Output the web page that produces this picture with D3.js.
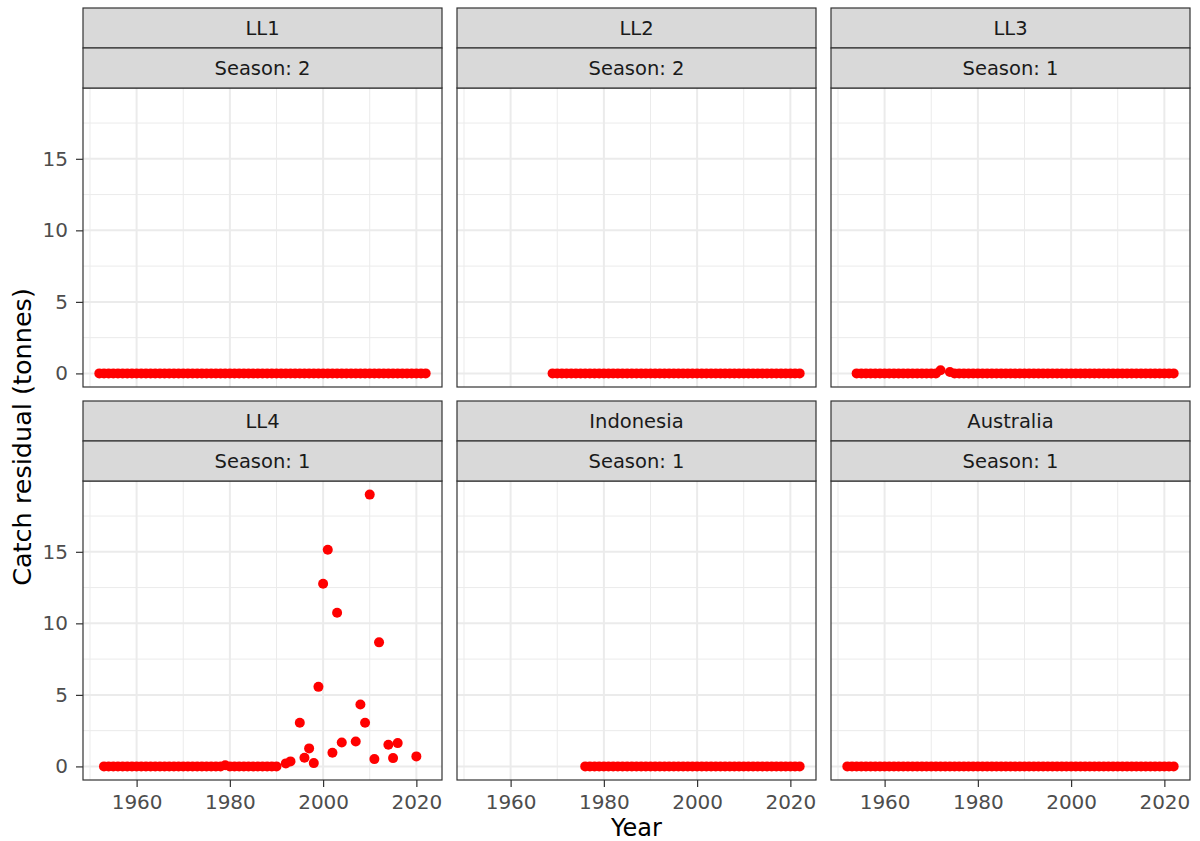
<!DOCTYPE html>
<html>
<head>
<meta charset="utf-8">
<script src="https://cdn.jsdelivr.net/npm/d3@7"></script>
<style>
  html, body { margin: 0; padding: 0; background: #fff; }
  svg { display: block; font-family: "DejaVu Sans", sans-serif; }
</style>
</head>
<body>
<svg id="chart" width="1200" height="841"></svg>
<script>
// ---------- data ----------
const panelNames = ["LL1", "LL2", "LL3", "LL4", "Indonesia", "Australia"];
const seasonLabels = ["Season: 2", "Season: 2", "Season: 1", "Season: 1", "Season: 1", "Season: 1"];

const yearsLL1 = [1952,1953,1954,1955,1956,1957,1958,1959,1960,1961,1962,1963,1964,1965,1966,1967,1968,1969,1970,1971,1972,1973,1974,1975,1976,1977,1978,1979,1980,1981,1982,1983,1984,1985,1986,1987,1988,1989,1990,1991,1992,1993,1994,1995,1996,1997,1998,1999,2000,2001,2002,2003,2004,2005,2006,2007,2008,2009,2010,2011,2012,2013,2014,2015,2016,2017,2018,2019,2020,2021,2022];
const valuesLL1 = [0,0,0,0,0,0,0,0,0,0,0,0,0,0,0,0,0,0,0,0,0,0,0,0,0,0,0,0,0,0,0,0,0,0,0,0,0,0,0,0,0,0,0,0,0,0,0,0,0,0,0,0,0,0,0,0,0,0,0,0,0,0,0,0,0,0,0,0,0,0,0];

const yearsLL2 = [1969,1970,1971,1972,1973,1974,1975,1976,1977,1978,1979,1980,1981,1982,1983,1984,1985,1986,1987,1988,1989,1990,1991,1992,1993,1994,1995,1996,1997,1998,1999,2000,2001,2002,2003,2004,2005,2006,2007,2008,2009,2010,2011,2012,2013,2014,2015,2016,2017,2018,2019,2020,2021,2022];
const valuesLL2 = [0,0,0,0,0,0,0,0,0,0,0,0,0,0,0,0,0,0,0,0,0,0,0,0,0,0,0,0,0,0,0,0,0,0,0,0,0,0,0,0,0,0,0,0,0,0,0,0,0,0,0,0,0,0];

const yearsLL3 = [1954,1955,1956,1957,1958,1959,1960,1961,1962,1963,1964,1965,1966,1967,1968,1969,1970,1971,1972,1974,1975,1976,1977,1978,1979,1980,1981,1982,1983,1984,1985,1986,1987,1988,1989,1990,1991,1992,1993,1994,1995,1996,1997,1998,1999,2000,2001,2002,2003,2004,2005,2006,2007,2008,2009,2010,2011,2012,2013,2014,2015,2016,2017,2018,2019,2020,2021,2022];
const valuesLL3 = [0,0,0,0,0,0,0,0,0,0,0,0,0,0,0,0,0,0,0.22,0.1,0,0,0,0,0,0,0,0,0,0,0,0,0,0,0,0,0,0,0,0,0,0,0,0,0,0,0,0,0,0,0,0,0,0,0,0,0,0,0,0,0,0,0,0,0,0,0,0];

const yearsLL4 = [1953,1954,1955,1956,1957,1958,1959,1960,1961,1962,1963,1964,1965,1966,1967,1968,1969,1970,1971,1972,1973,1974,1975,1976,1977,1978,1979,1980,1981,1982,1983,1984,1985,1986,1987,1988,1989,1990,1992,1993,1995,1996,1997,1998,1999,2000,2001,2002,2003,2004,2007,2008,2009,2010,2011,2012,2014,2015,2016,2020];
const valuesLL4 = [0,0,0,0,0,0,0,0,0,0,0,0,0,0,0,0,0,0,0,0,0,0,0,0,0,0,0.08,0,0,0,0,0,0,0,0,0,0,0,0.21,0.35,3.05,0.6,1.26,0.23,5.56,12.77,15.14,0.95,10.74,1.67,1.74,4.33,3.05,19.0,0.51,8.67,1.51,0.58,1.63,0.7];

const yearsIndonesia = [1976,1977,1978,1979,1980,1981,1982,1983,1984,1985,1986,1987,1988,1989,1990,1991,1992,1993,1994,1995,1996,1997,1998,1999,2000,2001,2002,2003,2004,2005,2006,2007,2008,2009,2010,2011,2012,2013,2014,2015,2016,2017,2018,2019,2020,2021,2022];
const valuesIndonesia = [0,0,0,0,0,0,0,0,0,0,0,0,0,0,0,0,0,0,0,0,0,0,0,0,0,0,0,0,0,0,0,0,0,0,0,0,0,0,0,0,0,0,0,0,0,0,0];

const yearsAustralia = [1952,1953,1954,1955,1956,1957,1958,1959,1960,1961,1962,1963,1964,1965,1966,1967,1968,1969,1970,1971,1972,1973,1974,1975,1976,1977,1978,1979,1980,1981,1982,1983,1984,1985,1986,1987,1988,1989,1990,1991,1992,1993,1994,1995,1996,1997,1998,1999,2000,2001,2002,2003,2004,2005,2006,2007,2008,2009,2010,2011,2012,2013,2014,2015,2016,2017,2018,2019,2020,2021,2022];
const valuesAustralia = [0,0,0,0,0,0,0,0,0,0,0,0,0,0,0,0,0,0,0,0,0,0,0,0,0,0,0,0,0,0,0,0,0,0,0,0,0,0,0,0,0,0,0,0,0,0,0,0,0,0,0,0,0,0,0,0,0,0,0,0,0,0,0,0,0,0,0,0,0,0,0];

const xTickValues = [1960, 1980, 2000, 2020];
const xMinorValues = [1950, 1970, 1990, 2010];
const yTickValues = [0, 5, 10, 15];
const yMinorValues = [2.5, 7.5, 12.5, 17.5];

const seriesYears = [yearsLL1, yearsLL2, yearsLL3, yearsLL4, yearsIndonesia, yearsAustralia];
const seriesValues = [valuesLL1, valuesLL2, valuesLL3, valuesLL4, valuesIndonesia, valuesAustralia];

// ---------- layout ----------
const colLeft = [83, 457, 831];
const rowTop = [88, 481];
const panelW = 359, panelH = 299, stripH = 40;

const allYears = seriesYears.flat();
const allVals = seriesValues.flat();
const xExt = d3.extent(allYears), yExt = [0, d3.max(allVals)];
const xPad = (xExt[1] - xExt[0]) * 0.05, yPad = (yExt[1] - yExt[0]) * 0.05;

const x = d3.scaleLinear().domain([xExt[0] - xPad, xExt[1] + xPad]).range([0, panelW]);
const y = d3.scaleLinear().domain([yExt[0] - yPad, yExt[1] + yPad]).range([panelH, 0]);

const svg = d3.select("#chart");
svg.append("rect").attr("width", 1200).attr("height", 841).attr("fill", "#fff");

const gridCol = "#EBEBEB", lineCol = "#333333";
const tickFont = 20, stripFont = 19.5;

panelNames.forEach((name, i) => {
  const col = i % 3, row = Math.floor(i / 3);
  const g = svg.append("g").attr("transform", `translate(${colLeft[col]},${rowTop[row]})`);

  g.append("rect").attr("width", panelW).attr("height", panelH).attr("fill", "#fff");

  // minor grid
  g.selectAll(".vminor").data(xMinorValues).join("line")
    .attr("x1", d => x(d)).attr("x2", d => x(d)).attr("y1", 0).attr("y2", panelH)
    .attr("stroke", gridCol).attr("stroke-width", 1);
  g.selectAll(".hminor").data(yMinorValues).join("line")
    .attr("y1", d => y(d)).attr("y2", d => y(d)).attr("x1", 0).attr("x2", panelW)
    .attr("stroke", gridCol).attr("stroke-width", 1);
  // major grid
  g.selectAll(".vmajor").data(xTickValues).join("line")
    .attr("x1", d => x(d)).attr("x2", d => x(d)).attr("y1", 0).attr("y2", panelH)
    .attr("stroke", gridCol).attr("stroke-width", 2);
  g.selectAll(".hmajor").data(yTickValues).join("line")
    .attr("y1", d => y(d)).attr("y2", d => y(d)).attr("x1", 0).attr("x2", panelW)
    .attr("stroke", gridCol).attr("stroke-width", 2);

  // points
  const pts = seriesYears[i].map((yr, k) => ({ year: yr, value: seriesValues[i][k] }));
  g.selectAll(".pt").data(pts).join("circle")
    .attr("cx", d => x(d.year)).attr("cy", d => y(d.value)).attr("r", 5)
    .attr("fill", "#FF0000");

  // border
  g.append("rect").attr("width", panelW).attr("height", panelH)
    .attr("fill", "none").attr("stroke", lineCol).attr("stroke-width", 1.2);

  // strips
  [[name, -2 * stripH], [seasonLabels[i], -stripH]].forEach(([label, sy]) => {
    g.append("rect").attr("x", 0).attr("y", sy).attr("width", panelW).attr("height", stripH)
      .attr("fill", "#D9D9D9").attr("stroke", lineCol).attr("stroke-width", 1.2);
    g.append("text").attr("x", panelW / 2).attr("y", sy + stripH / 2)
      .attr("dy", "0.36em").attr("text-anchor", "middle")
      .attr("font-size", stripFont).attr("fill", "#1A1A1A").text(label);
  });

  // axes
  if (col === 0) {
    const ax = g.append("g").call(d3.axisLeft(y).tickValues(yTickValues).tickSize(7).tickPadding(8));
    ax.select(".domain").remove();
    ax.selectAll("line").attr("stroke", lineCol).attr("stroke-width", 1.2);
    ax.selectAll("text").attr("font-size", tickFont).attr("fill", "#4D4D4D").attr("font-family", "DejaVu Sans");
  }
  if (row === 1) {
    const ax = g.append("g").attr("transform", `translate(0,${panelH})`)
      .call(d3.axisBottom(x).tickValues(xTickValues).tickFormat(d3.format("d")).tickSize(7).tickPadding(8));
    ax.select(".domain").remove();
    ax.selectAll("line").attr("stroke", lineCol).attr("stroke-width", 1.2);
    ax.selectAll("text").attr("font-size", tickFont).attr("fill", "#4D4D4D").attr("font-family", "DejaVu Sans");
  }
});

// axis titles
svg.append("text").attr("x", (colLeft[0] + colLeft[2] + panelW) / 2).attr("y", 836)
  .attr("text-anchor", "middle").attr("font-size", 24).attr("fill", "#000").text("Year");
svg.append("text")
  .attr("transform", `translate(31,${(rowTop[0] + rowTop[1] + panelH) / 2 + 3}) rotate(-90)`)
  .attr("text-anchor", "middle").attr("font-size", 25.5).attr("fill", "#000")
  .text("Catch residual (tonnes)");
</script>
</body>
</html>
